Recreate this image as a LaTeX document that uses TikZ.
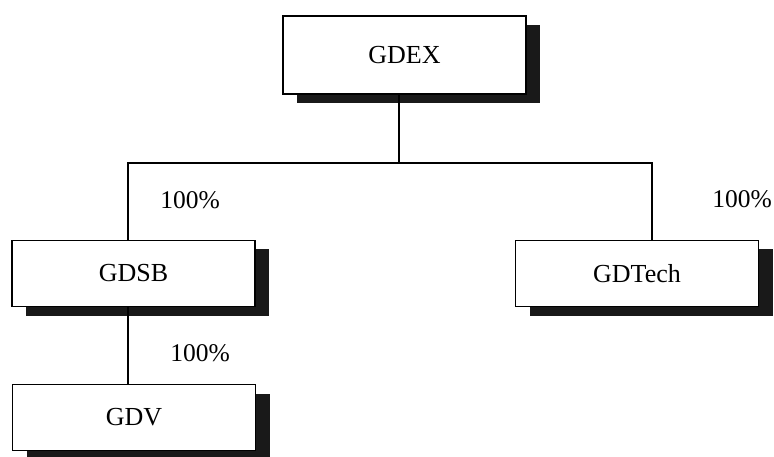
\documentclass[tikz,border=0pt]{standalone}
\usepackage{fontspec}
\setmainfont{Liberation Serif}
\usetikzlibrary{shadows}

\begin{document}
\begin{tikzpicture}[
    x=1pt, y=-1pt,
    unit/.style={rectangle, draw=black, line width=1.4pt, fill=white,
                 minimum width=243pt, minimum height=66pt,
                 font=\fontsize{26}{30}\selectfont,
                 drop shadow={shadow xshift=14pt, shadow yshift=-9pt,
                              fill=black!90, opacity=1}},
    link/.style={line width=1.4pt},
    share/.style={font=\fontsize{25.5}{29}\selectfont}
]
    \useasboundingbox (0,0) rectangle (774,457);

    % Companies
    \node[unit, minimum height=78pt] (gdex) at (404.5, 55) {GDEX};
    \node[unit] (gdsb) at (133.5, 273.5) {GDSB};
    \node[unit] (gdtech) at (637, 273.5) {GDTech};
    \node[unit] (gdv) at (134, 417.5) {GDV};

    % Bus line
    \coordinate (bus) at (399, 163);

    % Ownership lines
    \draw[link] ([xshift=-5.5pt]gdex.south) -- ([xshift=-5.5pt]gdex.south |- bus)
        -| ([xshift=-5.5pt]gdsb.north);
    \draw[link] ([xshift=-5.5pt]gdex.south |- bus) -| ([xshift=15pt]gdtech.north);
    \draw[link] ([xshift=-5.5pt]gdsb.south) -- ([xshift=-6pt]gdv.north);

    % Share labels
    \node[share] (pct1) at (190, 200) {100\%};
    \node[share] (pct2) at (742, 199) {100\%};
    \node[share] (pct3) at (200, 353) {100\%};

\end{tikzpicture}
\end{document}
